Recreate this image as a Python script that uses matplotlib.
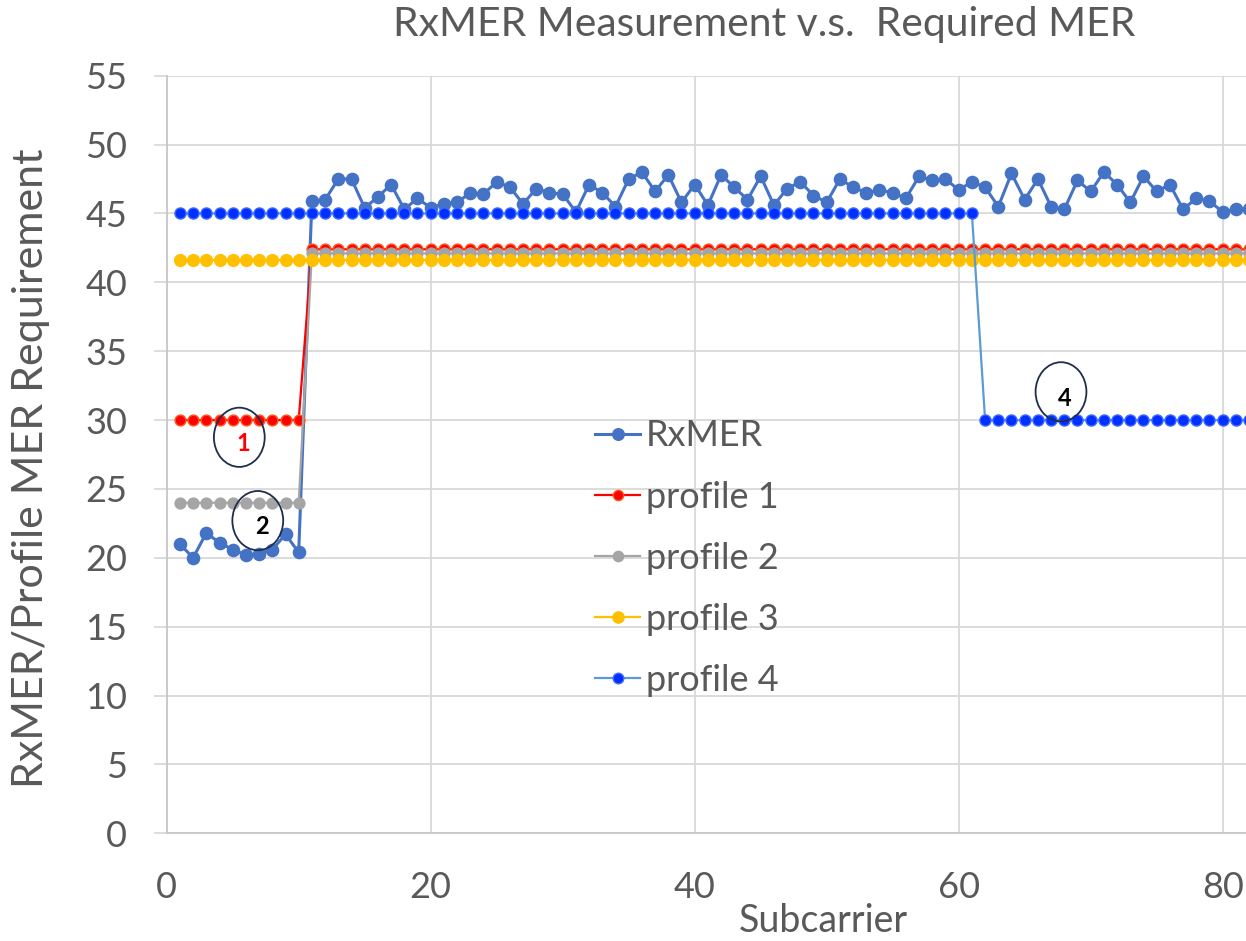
import numpy as np
import matplotlib
matplotlib.use("Agg")
import matplotlib.pyplot as plt
from matplotlib.patches import Ellipse

# ---------------- data ----------------
subcarrier = list(range(1, 83))

rxmer = [21.0, 20.0, 21.8, 21.1, 20.6, 20.2, 20.3, 20.6, 21.7, 20.4,
         45.9, 46.0, 47.5, 47.5, 45.4, 46.2, 47.1, 45.3, 46.1, 45.4,
         45.7, 45.8, 46.5, 46.4, 47.3, 46.9, 45.7, 46.8, 46.5, 46.4,
         45.1, 47.1, 46.5, 45.5, 47.5, 48.0, 46.6, 47.8, 45.8, 47.1,
         45.6, 47.8, 46.9, 46.0, 47.7, 45.6, 46.8, 47.3, 46.3, 45.8,
         47.5, 46.9, 46.5, 46.7, 46.5, 46.1, 47.7, 47.4, 47.5, 46.7,
         47.3, 46.9, 45.5, 47.9, 46.0, 47.5, 45.5, 45.3, 47.4, 46.6,
         48.0, 47.1, 45.8, 47.7, 46.6, 47.1, 45.3, 46.1, 45.9, 45.1,
         45.3, 45.3]

profile1 = [30.0] * 10 + [42.4] * 72
profile2 = [24.0] * 10 + [42.1] * 72
profile3 = [41.6] * 82
profile4 = [45.0] * 61 + [30.0] * 21

series_labels = ["RxMER", "profile 1", "profile 2", "profile 3", "profile 4"]
title_text = "RxMER Measurement v.s.  Required MER"
xlabel_text = "Subcarrier"
ylabel_text = "RxMER/Profile MER Requirement"
yticks = [0, 5, 10, 15, 20, 25, 30, 35, 40, 45, 50, 55]
xticks = [0, 20, 40, 60, 80]

# annotation markers: (label, x, y)
notes = [("1", 5.8, 28.3), ("2", 7.2, 22.25), ("4", 68.05, 31.6)]

# ---------------- style ----------------
plt.rcParams['font.family'] = ['Lato', 'DejaVu Sans']
W, H = 1246, 941
fig = plt.figure(figsize=(W / 100, H / 100), dpi=100)

left_px, right_px = 166.7, 1246.0
top_px, bottom_px = 75.7, 833.3
ax = fig.add_axes([left_px / W, 1 - bottom_px / H,
                   (right_px - left_px) / W, (bottom_px - top_px) / H])

grid_c = '#D9D9D9'
text_c = '#595959'

ax.plot(subcarrier, rxmer, color='#4472C4', lw=2.2, marker='o', ms=8.8,
        mfc='#4472C4', mec='#4472C4', label=series_labels[0], zorder=3)
ax.plot(subcarrier, profile1, color='#FF0000', lw=1.6, marker='o', ms=7.8,
        mfc='#FF0000', mec='#FF5A1E', mew=1.0, label=series_labels[1], zorder=4)
ax.plot(subcarrier, profile2, color='#A5A5A5', lw=1.6, marker='o', ms=7.8,
        mfc='#A5A5A5', mec='#A5A5A5', label=series_labels[2], zorder=5)
ax.plot(subcarrier, profile3, color='#FFC000', lw=1.6, marker='o', ms=8.5,
        mfc='#FFC000', mec='#FFC000', label=series_labels[3], zorder=6)
ax.plot(subcarrier, profile4, color='#5B9BD5', lw=1.6, marker='o', ms=8,
        mfc='#0030FF', mec='#3F6BFF', mew=1.0, label=series_labels[4], zorder=7)

ax.set_xlim(0, (right_px - left_px) / 13.2)
ax.set_ylim(0, 55)
ax.set_xticks(xticks)
ax.set_yticks(yticks)
ax.grid(True, color=grid_c, lw=1.3)
ax.set_axisbelow(True)
for s in ['top', 'right']:
    ax.spines[s].set_visible(False)
for s in ['left', 'bottom']:
    ax.spines[s].set_color('#C8C8C8')
    ax.spines[s].set_linewidth(1.3)
ax.tick_params(axis='y', length=9.5, width=1.3, color=grid_c, pad=19,
               labelsize=26, labelcolor=text_c)
ax.tick_params(axis='x', length=0, pad=27, labelsize=26, labelcolor=text_c)

# ellipses & numbers
for lab, x, y in notes:
    ax.add_patch(Ellipse((x - 0.3, y + 0.45), 3.85, 4.3, fill=False,
                         ec='#1F2E4A', lw=1.3, zorder=9))
    ax.text(x, y, lab, ha='center', va='center', fontsize=17, fontweight='bold',
            color='#FF0000' if lab == '1' else 'black', zorder=10)

leg = ax.legend(loc='center left', bbox_to_anchor=(0.397, 0.363), frameon=False,
                fontsize=26, handlelength=1.25, handletextpad=0.15, labelspacing=0.78,
                borderpad=0, borderaxespad=0, markerscale=0.95)
for t in leg.get_texts():
    t.set_color(text_c)

fig.text(764 / W, 1 - 36 / H, title_text, ha='center', va='baseline',
         fontsize=29.4, color=text_c)
fig.text(31 / W, 1 - 468 / H, ylabel_text, ha='center', va='center',
         rotation=90, fontsize=31, color=text_c)
fig.text(823 / W, 1 - 921 / H, xlabel_text, ha='center', va='center',
         fontsize=27, color=text_c)

fig.savefig('out.png', dpi=100)
